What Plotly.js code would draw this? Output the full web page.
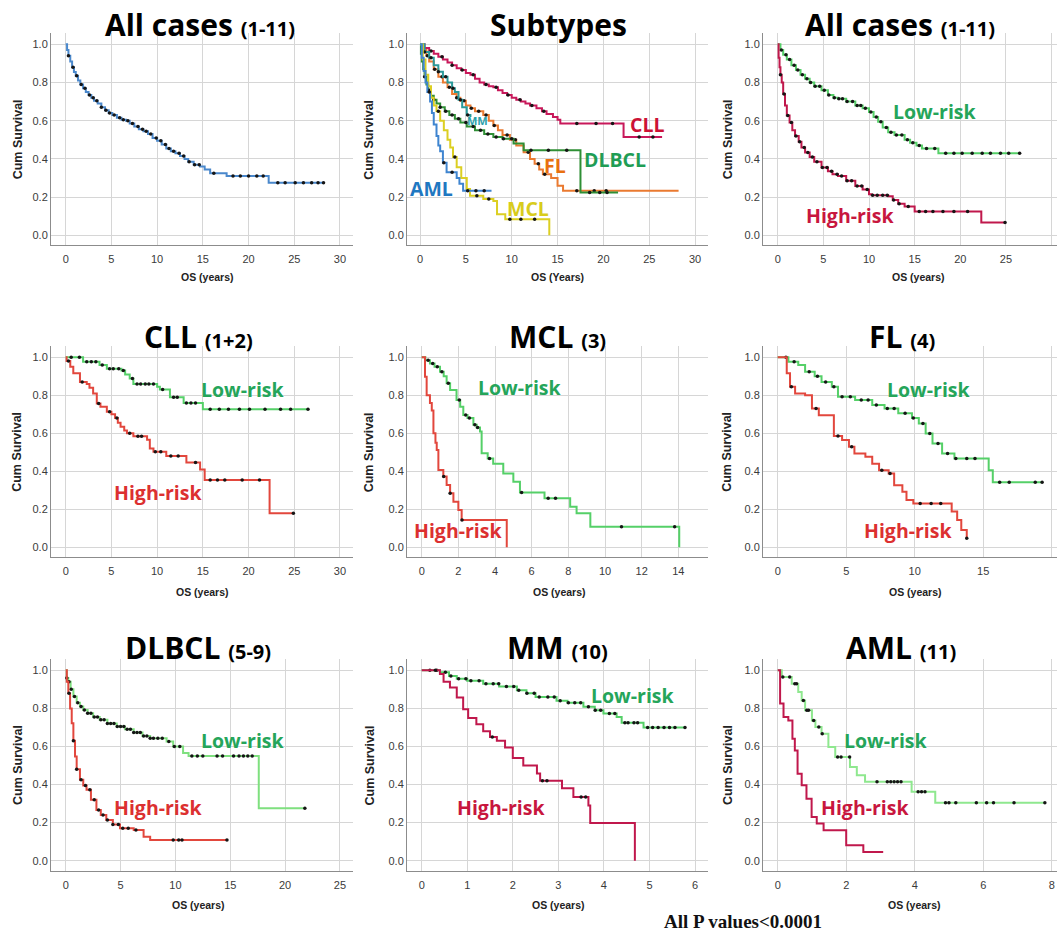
<!DOCTYPE html>
<html><head><meta charset="utf-8">
<script src="https://cdn.plot.ly/plotly-3.0.1.min.js"></script>
<style>body{margin:0;background:#fff}</style>
</head><body><div id="chart" style="width:1057px;height:941px"></div>
<script>
// ---------------- DATA (time in years, cumulative survival) ----------------
const allCases = [[0,1],[0.15,0.97],[0.3,0.94],[0.5,0.91],[0.7,0.88],[0.9,0.855],[1.1,0.835],[1.35,0.81],[1.6,0.79],[1.9,0.77],[2.2,0.75],[2.5,0.735],[2.8,0.72],[3.1,0.705],[3.5,0.69],[3.9,0.67],[4.3,0.655],[4.7,0.64],[5.1,0.63],[5.6,0.615],[6.1,0.605],[6.6,0.6],[7.0,0.585],[7.5,0.57],[8.0,0.555],[8.5,0.545],[9.0,0.53],[9.5,0.51],[10.0,0.495],[10.5,0.475],[11.0,0.455],[11.5,0.44],[12.0,0.43],[12.5,0.415],[13.0,0.4],[13.4,0.385],[14.0,0.37],[14.7,0.36],[15.2,0.345],[15.8,0.325],[17.6,0.31],[22.2,0.275],[28.2,0.275]];
const allCasesCens = [0.3,0.8,1.2,1.7,2.1,2.6,3.0,3.4,3.9,4.4,4.8,5.3,5.9,6.3,6.8,7.3,7.9,8.4,8.8,9.3,9.9,10.4,10.9,11.3,11.8,12.4,12.9,13.5,14.1,14.6,16.2,18.3,19.1,20.0,20.9,21.6,23.2,24.0,25.1,26.0,26.9,27.6,28.2];

const subCLL = [[0,1],[0.5,0.98],[1,0.965],[1.5,0.95],[2,0.935],[2.5,0.92],[3,0.905],[3.5,0.89],[4,0.875],[4.5,0.865],[5,0.85],[5.5,0.84],[6,0.82],[6.5,0.8],[7,0.79],[7.5,0.78],[8,0.775],[8.5,0.76],[9,0.745],[9.5,0.735],[10,0.72],[10.5,0.71],[11,0.7],[11.5,0.69],[12,0.68],[12.7,0.665],[13.3,0.65],[13.8,0.635],[14.5,0.62],[15,0.605],[15.3,0.585],[22.2,0.515],[26.4,0.515]];
const subCLLCens = [1.2,2.4,3.5,4.6,5.8,7.2,8.3,9.6,10.9,12.2,13.5,17.1,19.2,21.0,23.9,25.4];
const subFL = [[0,1],[0.3,0.97],[0.7,0.94],[1,0.91],[1.5,0.87],[2,0.83],[2.5,0.8],[3,0.775],[3.5,0.74],[4,0.72],[4.4,0.705],[5,0.68],[5.5,0.665],[6,0.65],[6.9,0.63],[7.5,0.6],[8,0.575],[8.5,0.55],[9,0.525],[9.8,0.5],[10.5,0.47],[11.3,0.435],[12,0.4],[12.5,0.375],[13,0.345],[13.4,0.32],[14.3,0.3],[15,0.26],[15.6,0.233],[28.2,0.233]];
const subFLCens = [0.8,1.6,2.4,3.2,4.0,4.8,5.6,6.4,7.2,8.1,9.5,10.4,11.8,12.9,13.6,17.1,19.0,20.3];
const subDLBCL = [[0,1],[0.1,0.95],[0.2,0.91],[0.35,0.87],[0.5,0.83],[0.7,0.79],[0.9,0.76],[1.2,0.73],[1.5,0.71],[1.8,0.69],[2.2,0.67],[2.7,0.65],[3.2,0.63],[3.8,0.61],[4.4,0.59],[5.1,0.57],[6,0.55],[7,0.53],[8,0.515],[9,0.505],[10.2,0.48],[11.3,0.445],[17.5,0.224],[21.6,0.224]];
const subDLBCLCens = [0.5,1.0,1.5,2.2,2.8,3.5,4.2,5.0,5.8,6.6,7.4,8.3,9.1,10.0,12.1,14.0,16.0,18.5,19.6,20.4];
const subAML = [[0,1],[0.2,0.93],[0.4,0.86],[0.6,0.8],[0.8,0.75],[1.1,0.7],[1.3,0.64],[1.5,0.58],[1.8,0.52],[2.0,0.47],[2.2,0.44],[2.5,0.38],[2.9,0.33],[4.0,0.3],[4.3,0.27],[4.7,0.233],[7.8,0.233]];
const subAMLCens = [1.0,2.6,3.5,5.2,6.1,7.0];
const subMCL = [[0,1],[0.3,0.92],[0.6,0.84],[0.9,0.78],[1.2,0.72],[1.5,0.68],[1.8,0.65],[2.2,0.6],[2.6,0.55],[3.0,0.5],[3.3,0.46],[3.6,0.41],[4.0,0.356],[4.5,0.3],[5.1,0.242],[5.45,0.207],[6.9,0.19],[8.0,0.18],[8.4,0.11],[9.3,0.084],[14.1,0]];
const subMCLCens = [2.0,3.8,6.2,7.5,9.8,11.0,12.5];
const subMM = [[0,1],[0.5,0.96],[1,0.93],[1.5,0.89],[2,0.856],[2.5,0.83],[3,0.8],[3.5,0.77],[3.8,0.75],[4.2,0.71],[4.6,0.67],[5.1,0.63],[5.5,0.62]];
const subMMCens = [0.5,1.2,2.0,2.8,3.6,4.4,5.2];

const allLow = [[0,1],[0.3,0.97],[0.6,0.945],[1,0.92],[1.5,0.89],[2,0.865],[2.5,0.84],[3,0.82],[3.5,0.8],[4,0.78],[4.8,0.76],[5.5,0.735],[6.1,0.72],[6.6,0.715],[7.5,0.7],[8.5,0.68],[9.3,0.665],[10,0.645],[10.5,0.62],[11,0.595],[11.5,0.565],[12.1,0.54],[12.8,0.525],[13.9,0.5],[14.5,0.485],[15.2,0.47],[15.8,0.455],[17.6,0.43],[26.5,0.43]];
const allLowCens = [0.4,0.9,1.3,1.8,2.2,2.7,3.2,3.6,4.1,4.6,5.1,5.6,6.2,6.7,7.1,7.6,8.2,8.7,9.1,9.6,10.2,10.8,11.3,11.9,12.4,13.0,13.6,14.2,14.8,15.5,16.3,17.2,18.4,19.3,20.2,21.3,22.4,23.3,24.4,25.3,26.5];
const allHigh = [[0,1],[0.1,0.93],[0.2,0.88],[0.3,0.84],[0.44,0.8],[0.6,0.74],[0.8,0.68],[1.0,0.627],[1.3,0.59],[1.6,0.55],[1.9,0.52],[2.3,0.49],[2.6,0.46],[3.0,0.433],[3.5,0.41],[4.0,0.385],[4.8,0.355],[5.5,0.335],[6.0,0.32],[6.6,0.31],[7.5,0.285],[8.5,0.258],[9.3,0.24],[10.0,0.215],[10.3,0.21],[12.1,0.204],[12.6,0.185],[13.2,0.165],[13.9,0.151],[15.0,0.124],[22.3,0.067],[24.9,0.067]];
const allHighCens = [0.3,0.7,1.1,1.5,2.0,2.4,2.9,3.3,3.8,4.3,4.9,5.4,5.9,6.5,7.0,7.6,8.1,8.7,9.2,9.8,10.4,10.9,11.5,12.0,12.7,13.3,14.3,15.5,16.2,17.0,18.1,19.3,20.8,24.9];

const cllLow = [[0,1],[1.9,0.977],[3.7,0.96],[4.5,0.94],[6.1,0.93],[6.5,0.91],[7.0,0.889],[7.4,0.86],[10.0,0.845],[10.3,0.83],[11.4,0.79],[12.9,0.76],[15.0,0.726],[26.5,0.726]];
const cllLowCens = [0.6,1.5,2.3,2.8,3.3,4.0,4.8,5.2,5.8,6.3,7.3,7.8,8.2,8.7,9.1,9.6,10.6,11.8,12.2,13.2,13.7,14.2,15.8,16.8,17.8,19.0,20.1,21.8,23.5,24.6,26.5];
const cllHigh = [[0,1],[0.1,0.98],[0.5,0.95],[0.83,0.916],[1.56,0.87],[2.3,0.86],[2.6,0.84],[3.0,0.81],[3.4,0.757],[3.8,0.74],[4.5,0.714],[5.0,0.7],[5.4,0.68],[5.7,0.655],[6.0,0.635],[6.4,0.615],[6.7,0.6],[7.4,0.584],[8.9,0.566],[9.2,0.52],[9.6,0.503],[11.0,0.48],[13.2,0.446],[14.7,0.41],[15.2,0.354],[22.3,0.179],[24.9,0.179]];
const cllHighCens = [0.3,1.8,3.6,4.8,5.6,7.0,7.9,8.3,9.8,10.4,11.5,12.3,14.2,15.8,16.6,17.4,19.3,21.2,24.9];

const mclLow = [[0,1],[0.2,0.985],[0.45,0.968],[0.7,0.95],[1.0,0.924],[1.2,0.9],[1.36,0.863],[1.55,0.828],[1.9,0.775],[2.1,0.74],[2.27,0.696],[2.5,0.68],[2.82,0.645],[3.0,0.63],[3.18,0.61],[3.27,0.495],[3.6,0.468],[3.9,0.44],[4.45,0.388],[5.0,0.345],[5.36,0.288],[6.7,0.258],[8.1,0.214],[8.45,0.179],[9.2,0.108],[14.05,0]];
const mclLowCens = [0.35,0.6,0.85,1.1,1.45,2.05,2.4,2.6,2.9,3.05,3.7,5.45,6.9,7.3,10.9,13.8];
const mclHigh = [[0,1],[0.18,0.898],[0.27,0.8],[0.45,0.76],[0.55,0.72],[0.64,0.6],[0.75,0.55],[0.82,0.512],[0.91,0.407],[1.18,0.372],[1.36,0.328],[1.55,0.285],[1.73,0.24],[2.0,0.196],[2.18,0.144],[4.64,0]];
const mclHighCens = [1.2,1.55,2.2];

const flLow = [[0,1],[0.78,0.977],[1.5,0.96],[2.0,0.924],[2.7,0.9],[3.2,0.87],[3.95,0.845],[4.4,0.793],[5.65,0.775],[6.9,0.749],[7.8,0.731],[8.8,0.705],[9.8,0.68],[10.3,0.652],[10.8,0.599],[11.3,0.546],[12.0,0.494],[12.9,0.468],[15.2,0.468],[15.4,0.406],[15.7,0.342],[19.3,0.342]];
const flLowCens = [0.6,1.2,2.3,2.9,3.5,4.1,4.7,5.3,6.1,6.6,7.2,8.0,8.5,9.3,9.9,10.6,11.1,11.7,12.4,13.0,13.8,14.4,16.2,16.9,18.8,19.3];
const flHigh = [[0,1],[0.66,0.916],[0.9,0.845],[1.27,0.81],[2.0,0.8],[2.5,0.73],[3.0,0.695],[4.1,0.586],[4.7,0.565],[5.2,0.529],[5.6,0.494],[6.4,0.476],[6.9,0.44],[7.4,0.406],[8.1,0.389],[8.5,0.327],[9.1,0.293],[9.4,0.249],[9.9,0.231],[12.7,0.188],[13.1,0.144],[13.4,0.091],[13.8,0.047]];
const flHighCens = [1.0,2.8,4.4,5.4,7.6,8.2,10.4,11.2,11.9,13.8];

const dlbclLow = [[0,1],[0.1,0.96],[0.24,0.94],[0.45,0.9],[0.7,0.862],[1.0,0.83],[1.3,0.81],[1.6,0.792],[2.0,0.775],[2.5,0.755],[3.1,0.74],[3.8,0.72],[4.65,0.705],[5.4,0.69],[6.2,0.673],[7.0,0.655],[7.7,0.643],[9.2,0.626],[9.8,0.6],[10.7,0.565],[11.2,0.55],[17.6,0.275],[21.8,0.275]];
const dlbclLowCens = [0.1,0.3,0.5,0.8,1.1,1.4,1.7,2.0,2.3,2.6,2.9,3.2,3.5,3.8,4.1,4.4,4.7,5.0,5.3,5.6,5.9,6.2,6.5,6.8,7.1,7.4,7.7,8.0,8.4,8.8,9.4,9.9,10.4,11.5,12.0,12.5,13.8,14.3,15.3,15.8,16.2,16.6,17.0,21.8];
const dlbclHigh = [[0,1],[0.1,0.94],[0.24,0.88],[0.4,0.8],[0.55,0.722],[0.7,0.63],[0.85,0.547],[1.0,0.48],[1.3,0.425],[1.6,0.395],[1.9,0.372],[2.3,0.32],[2.8,0.266],[3.2,0.24],[3.7,0.214],[4.3,0.19],[4.95,0.17],[6.2,0.161],[7.1,0.126],[7.7,0.109],[14.7,0.109]];
const dlbclHighCens = [0.3,0.7,1.0,1.4,1.8,2.2,2.6,3.0,3.4,3.8,4.3,4.8,5.2,5.7,6.4,9.8,10.3,10.6,14.7];

const mmLow = [[0,1],[0.4,0.99],[0.6,0.97],[0.77,0.955],[1.0,0.945],[1.35,0.93],[1.7,0.915],[2.09,0.895],[2.3,0.88],[2.5,0.86],[2.96,0.84],[3.2,0.83],[3.55,0.808],[3.8,0.79],[3.99,0.773],[4.28,0.755],[4.39,0.725],[4.87,0.699],[5.78,0.699]];
const mmLowCens = [0.18,0.33,0.52,0.64,0.81,0.97,1.08,1.26,1.41,1.57,1.69,1.86,2.02,2.13,2.31,2.47,2.58,2.77,2.91,3.04,3.22,3.36,3.49,3.66,3.81,3.93,4.12,4.24,4.46,4.53,4.66,4.74,4.96,5.07,5.19,5.32,5.44,5.56,5.78];
const mmHigh = [[0,1],[0.4,0.98],[0.48,0.94],[0.62,0.91],[0.77,0.857],[0.91,0.795],[1.02,0.75],[1.2,0.717],[1.35,0.68],[1.5,0.65],[1.65,0.63],[1.83,0.595],[2.0,0.54],[2.23,0.5],[2.53,0.458],[2.6,0.42],[3.08,0.38],[3.33,0.335],[3.66,0.29],[3.7,0.198],[4.68,0]];
const mmHighCens = [0.3,1.55,2.65,2.75,3.5,3.6];

const amlLow = [[0,1],[0.12,0.965],[0.41,0.93],[0.6,0.886],[0.7,0.842],[0.8,0.79],[1.0,0.737],[1.1,0.702],[1.28,0.667],[1.48,0.597],[1.68,0.545],[2.11,0.492],[2.31,0.449],[2.55,0.414],[3.91,0.362],[4.6,0.304],[7.8,0.304]];
const amlLowCens = [0.15,0.35,0.5,0.55,0.75,0.85,0.9,1.05,1.2,1.3,1.75,1.85,2.1,2.9,3.2,3.3,3.4,3.5,3.6,4.1,4.2,4.3,4.9,5.0,5.2,5.8,6.1,6.3,6.9,7.8];
const amlHigh = [[0,1],[0.07,0.825],[0.17,0.755],[0.31,0.737],[0.43,0.641],[0.5,0.579],[0.58,0.457],[0.7,0.396],[0.84,0.326],[0.99,0.23],[1.14,0.195],[1.34,0.16],[2.0,0.081],[2.5,0.046],[3.08,0.046]];
const amlHighCens = [];

const yTicks = [0, 0.2, 0.4, 0.6, 0.8, 1.0];
const titles = [
  ["All cases", "(1-11)"], ["Subtypes", ""], ["All cases", "(1-11)"],
  ["CLL", "(1+2)"], ["MCL", "(3)"], ["FL", "(4)"],
  ["DLBCL", "(5-9)"], ["MM", "(10)"], ["AML", "(11)"]
];
const xTitles = ["OS (years)","OS (Years)","OS (years)","OS (years)","OS (years)","OS (years)","OS (years)","OS (years)","OS (years)"];

// ---------------- LAYOUT GEOMETRY (pixels) ----------------
const W = 1057, H = 941;
const rows = [
  {y1:44.3, y0:235.3, top:33, bottom:245, xt:276.7, cy:139.8, ty:25},
  {y1:357.3, y0:547.3, top:346, bottom:557, xt:591.7, cy:452.3, ty:336},
  {y1:670.3, y0:860.7, top:659, bottom:871, xt:905, cy:765.5, ty:647.5}
];
const panels = [
  {x0:65.7, ppu:9.143, left:51, right:353, row:0, dtick:5, tx:200, otx:207, cx:17.5},
  {x0:420, ppu:9.17, left:407, right:708, row:0, dtick:5, tx:558, otx:557, cx:369},
  {x0:777.7, ppu:9.13, left:763, right:1057, row:0, dtick:5, tx:900, otx:918, cx:727.5},
  {x0:65.7, ppu:9.143, left:51, right:353, row:1, dtick:5, tx:198.3, otx:202, cx:17.5},
  {x0:421.7, ppu:18.33, left:407, right:708, row:1, dtick:2, tx:557, otx:559, cx:369},
  {x0:777.7, ppu:13.7, left:763, right:1057, row:1, dtick:5, tx:901.7, otx:915, cx:727.5},
  {x0:65.7, ppu:10.97, left:51, right:353, row:2, dtick:5, tx:198.3, otx:198.5, cx:17.5},
  {x0:421.7, ppu:45.55, left:407, right:708, row:2, dtick:1, tx:557.5, otx:558.5, cx:369},
  {x0:777.7, ppu:34.25, left:763, right:1057, row:2, dtick:2, tx:900.5, otx:914, cx:727.5}
];

const GREEN_LINE = '#55d068', PALE_GREEN = '#8fe88f', RED_LINE = '#e2473d', CRIMSON = '#c0184c';
const curves = [
  {p:0, d:allCases, c:allCasesCens, col:'#4a88cc'},
  {p:1, d:subCLL, c:subCLLCens, col:'#c8185a'},
  {p:1, d:subFL, c:subFLCens, col:'#ea7a30'},
  {p:1, d:subDLBCL, c:subDLBCLCens, col:'#2f8f35'},
  {p:1, d:subMM, c:subMMCens, col:'#2a9a9a'},
  {p:1, d:subMCL, c:subMCLCens, col:'#dccf22'},
  {p:1, d:subAML, c:subAMLCens, col:'#3f85d0'},
  {p:2, d:allLow, c:allLowCens, col:GREEN_LINE},
  {p:2, d:allHigh, c:allHighCens, col:CRIMSON},
  {p:3, d:cllLow, c:cllLowCens, col:GREEN_LINE},
  {p:3, d:cllHigh, c:cllHighCens, col:RED_LINE},
  {p:4, d:mclLow, c:mclLowCens, col:GREEN_LINE},
  {p:4, d:mclHigh, c:mclHighCens, col:RED_LINE},
  {p:5, d:flLow, c:flLowCens, col:GREEN_LINE},
  {p:5, d:flHigh, c:flHighCens, col:RED_LINE},
  {p:6, d:dlbclLow, c:dlbclLowCens, col:'#7fe07f'},
  {p:6, d:dlbclHigh, c:dlbclHighCens, col:RED_LINE},
  {p:7, d:mmLow, c:mmLowCens, col:GREEN_LINE},
  {p:7, d:mmHigh, c:mmHighCens, col:CRIMSON},
  {p:8, d:amlLow, c:amlLowCens, col:PALE_GREEN},
  {p:8, d:amlHigh, c:amlHighCens, col:CRIMSON}
];

const TXT_GREEN = '#25a55a', TXT_RED = '#dc3030', TXT_CRIMSON = '#c8163e';
const labels = [
  {t:'CLL', x:646.7, y:125, col:'#cc1236', s:19.5},
  {t:'DLBCL', x:615, y:159, col:'#1f9d55', s:19.5},
  {t:'FL', x:555, y:165.8, col:'#e8700f', s:19.5},
  {t:'MM', x:477.5, y:120.8, col:'#2aa0aa', s:11},
  {t:'AML', x:431.7, y:189, col:'#1f78c1', s:19.5},
  {t:'MCL', x:528, y:209, col:'#d8cc1c', s:19.5},
  {t:'Low-risk', x:935.3, y:111.7, col:TXT_GREEN, s:19.5},
  {t:'High-risk', x:850, y:215, col:TXT_CRIMSON, s:19.5},
  {t:'Low-risk', x:242.5, y:389.2, col:TXT_GREEN, s:19.5},
  {t:'High-risk', x:157.5, y:492.5, col:TXT_RED, s:19.5},
  {t:'Low-risk', x:520, y:387.5, col:TXT_GREEN, s:19.5},
  {t:'High-risk', x:458.3, y:530.8, col:TXT_RED, s:19.5},
  {t:'Low-risk', x:929, y:389.2, col:TXT_GREEN, s:19.5},
  {t:'High-risk', x:908.3, y:530.8, col:TXT_RED, s:19.5},
  {t:'Low-risk', x:242.5, y:740.3, col:TXT_GREEN, s:19.5},
  {t:'High-risk', x:157.5, y:807.8, col:TXT_RED, s:19.5},
  {t:'Low-risk', x:632.5, y:695, col:TXT_GREEN, s:19.5},
  {t:'High-risk', x:500.8, y:807.8, col:TXT_CRIMSON, s:19.5},
  {t:'Low-risk', x:885.8, y:740, col:TXT_GREEN, s:19.5},
  {t:'High-risk', x:865, y:807.8, col:TXT_CRIMSON, s:19.5}
];

// ---------------- BUILD ----------------
const px = x => x / W, py = y => 1 - y / H;
function stepAt(d, t){ let s = d[0][1]; for (const [tt, ss] of d){ if (tt <= t) s = ss; else break; } return s; }

const traces = [];
curves.forEach(cv => {
  const ax = cv.p === 0 ? '' : String(cv.p + 1);
  traces.push({type:'scatter', mode:'lines', x:cv.d.map(v=>v[0]), y:cv.d.map(v=>v[1]),
    line:{shape:'hv', color:cv.col, width:2}, xaxis:'x'+ax, yaxis:'y'+ax, hoverinfo:'skip'});
  if (cv.c.length) traces.push({type:'scatter', mode:'markers', x:cv.c, y:cv.c.map(t=>stepAt(cv.d,t)),
    marker:{color:'#151515', size:3.5, symbol:'circle'}, xaxis:'x'+ax, yaxis:'y'+ax, hoverinfo:'skip'});
});

const layout = {width:W, height:H, margin:{l:0,r:0,t:0,b:0}, showlegend:false,
  paper_bgcolor:'#fff', plot_bgcolor:'#fff', hovermode:false, annotations:[]};
const tickFont = {family:'Liberation Sans, Arial, sans-serif', size:11, color:'#3a3a3a'};
panels.forEach((p, i) => {
  const r = rows[p.row];
  const ax = i === 0 ? '' : String(i + 1);
  layout['xaxis'+ax] = {domain:[px(p.left), px(p.right)],
    range:[(p.left-p.x0)/p.ppu, (p.right-p.x0)/p.ppu], tick0:0, dtick:p.dtick,
    showgrid:true, gridcolor:'#d6d6d6', gridwidth:1, zeroline:false,
    showline:true, linecolor:'#8c8c8c', linewidth:1, ticks:'outside', ticklen:4, tickcolor:'rgba(0,0,0,0)',
    tickfont:tickFont, anchor:'y'+ax, fixedrange:true};
  layout['yaxis'+ax] = {domain:[py(r.bottom), py(r.top)],
    range:[(r.y0-r.bottom)/(r.y0-r.y1), (r.y0-r.top)/(r.y0-r.y1)], tickvals:yTicks, tickformat:'.1f',
    showgrid:true, gridcolor:'#d6d6d6', gridwidth:1, zeroline:false,
    showline:true, linecolor:'#8c8c8c', linewidth:1, ticks:'', tickfont:tickFont, anchor:'x'+ax, fixedrange:true};
  const tt = titles[i];
  const ttxt = '<b>' + tt[0] + '</b>' + (tt[1] ? ' <b><span style="font-size:20px">' + tt[1] + '</span></b>' : '');
  layout.annotations.push({xref:'paper', yref:'paper', x:px(p.tx), y:py(r.ty), text:ttxt, showarrow:false,
    xanchor:'center', yanchor:'middle', font:{family:'Open Sans, sans-serif', size:30, color:'#000'}});
  layout.annotations.push({xref:'paper', yref:'paper', x:px(p.otx), y:py(r.xt), text:'<b>'+xTitles[i]+'</b>', showarrow:false,
    xanchor:'center', yanchor:'middle', font:{family:'Liberation Sans, Arial, sans-serif', size:10.5, color:'#222'}});
  layout.annotations.push({xref:'paper', yref:'paper', x:px(p.cx), y:py(r.cy), text:'<b>Cum Survival</b>', showarrow:false,
    textangle:-90, xanchor:'center', yanchor:'middle', font:{family:'Liberation Sans, Arial, sans-serif', size:12.5, color:'#222'}});
});
labels.forEach(l => layout.annotations.push({xref:'paper', yref:'paper', x:px(l.x), y:py(l.y), text:'<b>'+l.t+'</b>',
  showarrow:false, xanchor:'center', yanchor:'middle', font:{family:'Open Sans, sans-serif', size:l.s, color:l.col}}));
layout.annotations.push({xref:'paper', yref:'paper', x:px(743), y:py(921.5), text:'<b>All P values&lt;0.0001</b>',
  showarrow:false, xanchor:'center', yanchor:'middle', font:{family:'Liberation Serif, Times New Roman, serif', size:19, color:'#111'}});

Plotly.newPlot('chart', traces, layout, {staticPlot:true, displayModeBar:false});
</script></body></html>
